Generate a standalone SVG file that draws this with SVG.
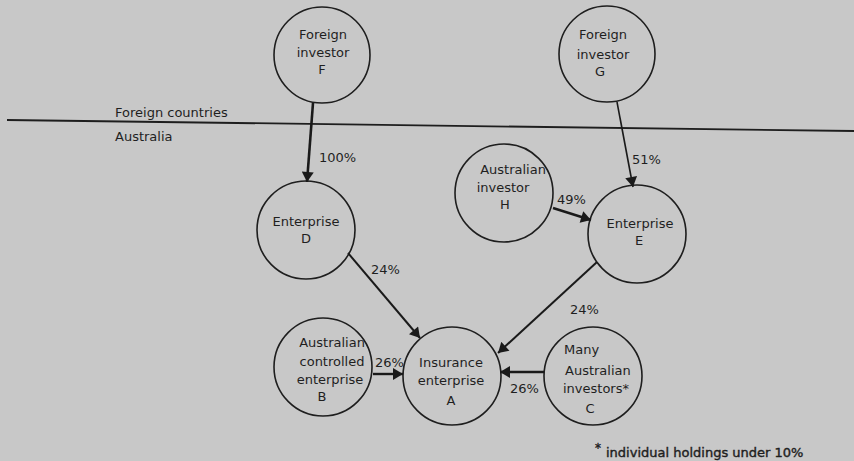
<svg xmlns="http://www.w3.org/2000/svg" width="854" height="461" viewBox="0 0 854 461">
<style>
.bg{fill:#c8c8c8}
.node circle{fill:none;stroke:#1e1e1e;stroke-width:1.6}
text{font-family:"DejaVu Sans","Liberation Sans",sans-serif;font-size:13px;fill:#1f1f1f}
.c{text-anchor:middle}
.conn line{stroke:#1a1a1a;stroke-width:2}
</style>
<defs>
<marker id="ah" viewBox="0 0 10 12" refX="10" refY="6" markerWidth="11" markerHeight="12" markerUnits="userSpaceOnUse" orient="auto">
<path d="M0,0 L10,6 L0,12 Z" fill="#1a1a1a"/>
</marker>
</defs>
<rect class="bg" x="0" y="0" width="854" height="461"/>
<line x1="7" y1="120" x2="854" y2="131" stroke="#1e1e1e" stroke-width="1.8"/>
<text x="115" y="117">Foreign countries</text>
<text x="115" y="141">Australia</text>

<g id="nodeF" class="node">
<circle cx="322" cy="55" r="48"/>
<text class="c" x="323" y="39">Foreign</text>
<text class="c" x="323" y="57">investor</text>
<text class="c" x="322" y="74">F</text>
</g>
<g id="nodeG" class="node">
<circle cx="607" cy="54" r="48"/>
<text class="c" x="603" y="39">Foreign</text>
<text class="c" x="603" y="59">investor</text>
<text class="c" x="600" y="76">G</text>
</g>
<g id="nodeD" class="node">
<circle cx="306" cy="230" r="49"/>
<text class="c" x="306" y="226">Enterprise</text>
<text class="c" x="306" y="243">D</text>
</g>
<g id="nodeH" class="node">
<circle cx="504" cy="193" r="49"/>
<text class="c" x="513" y="174">Australian</text>
<text class="c" x="503" y="192">investor</text>
<text class="c" x="505" y="209">H</text>
</g>
<g id="nodeE" class="node">
<circle cx="637" cy="234" r="49"/>
<text class="c" x="640" y="228">Enterprise</text>
<text class="c" x="639" y="245">E</text>
</g>
<g id="nodeA" class="node">
<circle cx="452" cy="376" r="49"/>
<text class="c" x="451" y="367">Insurance</text>
<text class="c" x="451" y="385">enterprise</text>
<text class="c" x="451" y="405">A</text>
</g>
<g id="nodeB" class="node">
<circle cx="323" cy="367" r="49"/>
<text class="c" x="332" y="347">Australian</text>
<text class="c" x="332" y="366">controlled</text>
<text class="c" x="330" y="384">enterprise</text>
<text class="c" x="322" y="401">B</text>
</g>
<g id="nodeC" class="node">
<circle cx="593" cy="376" r="49"/>
<text x="564" y="354">Many</text>
<text x="565" y="375">Australian</text>
<text x="563" y="393">investors*</text>
<text class="c" x="590" y="413">C</text>
</g>

<g id="connectors" class="conn">
<line x1="313" y1="103" x2="307" y2="182" marker-end="url(#ah)" style="stroke-width:2.6"/>
<line x1="617" y1="102" x2="633" y2="187" marker-end="url(#ah)" style="stroke-width:1.6"/>
<line x1="553" y1="208" x2="591" y2="220" marker-end="url(#ah)" style="stroke-width:2.4"/>
<line x1="348" y1="253" x2="420" y2="338" marker-end="url(#ah)"/>
<line x1="597" y1="262" x2="498" y2="353" marker-end="url(#ah)"/>
<line x1="373" y1="374" x2="403" y2="374" marker-end="url(#ah)" style="stroke-width:2.4"/>
<line x1="544" y1="372" x2="500" y2="372" marker-end="url(#ah)" style="stroke-width:2.4"/>
</g>
<g id="labels">
<text x="319" y="162">100%</text>
<text x="632" y="164">51%</text>
<text x="557" y="204">49%</text>
<text x="371" y="274">24%</text>
<text x="570" y="314">24%</text>
<text x="375" y="367">26%</text>
<text x="510" y="393">26%</text>
</g>
<text x="595" y="452" style="font-size:12px;stroke:#1f1f1f;stroke-width:0.4">*</text>
<text x="606" y="457" style="stroke:#1f1f1f;stroke-width:0.4">individual holdings under 10%</text>
</svg>
